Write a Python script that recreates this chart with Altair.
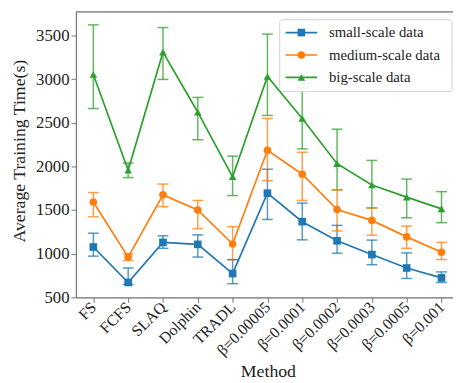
import altair as alt
import pandas as pd

methods = ["FS", "FCFS", "SLAQ", "Dolphin", "TRADL", "β=0.00005", "β=0.0001",
           "β=0.0002", "β=0.0003", "β=0.0005", "β=0.001"]
series_names = ["small-scale data", "medium-scale data", "big-scale data"]
colors = ["#1f77b4", "#ff7f0e", "#2ca02c"]
shapes = ["square", "circle", "triangle-up"]

small_mean = [1076, 669, 1129, 1106, 771, 1693, 1366, 1147, 989, 835, 722]
small_lo = [971, 647, 1061, 960, 655, 1392, 1158, 1005, 873, 715, 669]
small_hi = [1234, 835, 1204, 1215, 932, 1968, 1580, 1324, 1155, 1008, 790]

medium_mean = [1592, 960, 1674, 1501, 1110, 2186, 1911, 1505, 1381, 1192, 1016]
medium_lo = [1422, 921, 1539, 1287, 929, 1836, 1610, 1260, 1211, 1061, 932]
medium_hi = [1700, 997, 1798, 1610, 1309, 2551, 2163, 1731, 1524, 1316, 1129]

big_mean = [3055, 1956, 3311, 2622, 1881, 3032, 2551, 2032, 1787, 1648, 1513]
big_lo = [2664, 1872, 2998, 2306, 1666, 2585, 2201, 1731, 1524, 1411, 1355]
big_hi = [3624, 2039, 3593, 2792, 2118, 3518, 2900, 2427, 2069, 1855, 1711]

y_ticks = [500, 1000, 1500, 2000, 2500, 3000, 3500]

rows = []
for name, m, lo, hi in [
    (series_names[0], small_mean, small_lo, small_hi),
    (series_names[1], medium_mean, medium_lo, medium_hi),
    (series_names[2], big_mean, big_lo, big_hi),
]:
    for i, meth in enumerate(methods):
        rows.append({"series": name, "idx": i, "method": meth,
                     "mean": m[i], "lo": lo[i], "hi": hi[i]})
df = pd.DataFrame(rows)

FONT = "Liberation Serif, Times New Roman, serif"
W, H = 383, 290

label_arr = "[" + ",".join("'" + m + "'" for m in methods) + "]"

x_scale = alt.Scale(domain=[-0.5, 10.33], nice=False, zero=False)
x_axis = alt.Axis(values=list(range(len(methods))),
                  labelExpr=label_arr + "[datum.value]",
                  labelAngle=315, labelAlign="right", labelBaseline="middle",
                  labelPadding=2, labelBound=False, labelOverlap=False,
                  labelFontSize=16,
                  title="Method",
                  titleX=195, titleY=75, titleBaseline="middle", titleAlign="center")
x_enc = alt.X("idx:Q", scale=x_scale, axis=x_axis)

y_scale = alt.Scale(domain=[498, 3773], nice=False, zero=False)
y_axis = alt.Axis(values=y_ticks, format="d", title="Average Training Time(s)",
                  labelFontSize=17,
                  titleX=-57, titleY=141, titleAngle=270,
                  titleBaseline="middle", titleAlign="center")

color_enc = alt.Color("series:N", scale=alt.Scale(domain=series_names, range=colors),
                      legend=None)
shape_enc = alt.Shape("series:N", scale=alt.Scale(domain=series_names, range=shapes),
                      legend=None)

base = alt.Chart(df)

err = base.mark_rule(strokeWidth=1.5, opacity=0.75).encode(
    x=x_enc, y=alt.Y("lo:Q", scale=y_scale, axis=y_axis), y2="hi:Q", color=color_enc)
cap_lo = base.mark_tick(orient="horizontal", size=11, thickness=1.5, opacity=0.75).encode(
    x=x_enc, y=alt.Y("lo:Q", scale=y_scale, axis=y_axis), color=color_enc)
cap_hi = base.mark_tick(orient="horizontal", size=11, thickness=1.5, opacity=0.75).encode(
    x=x_enc, y=alt.Y("hi:Q", scale=y_scale, axis=y_axis), color=color_enc)
line = base.mark_line(strokeWidth=1.7).encode(
    x=x_enc, y=alt.Y("mean:Q", scale=y_scale, axis=y_axis), color=color_enc,
    detail="series:N")
pts = base.mark_point(filled=True, size=60, opacity=1).encode(
    x=x_enc, y=alt.Y("mean:Q", scale=y_scale, axis=y_axis), color=color_enc,
    shape=shape_enc)

# top spine
top = alt.Chart(pd.DataFrame({"a": [0]})).mark_rule(color="#777", strokeWidth=1.2).encode(
    x=alt.value(0), x2=alt.value(W), y=alt.value(0))

# legend
leg_df = pd.DataFrame({"series": series_names, "k": [0, 1, 2]})
leg_box = alt.Chart(pd.DataFrame({"a": [0]})).mark_rect(
    fill="white", fillOpacity=0.85, stroke="#d0d0d0", strokeWidth=1, cornerRadius=3
).encode(x=alt.value(207), x2=alt.value(382), y=alt.value(8), y2=alt.value(81))
leg_base = alt.Chart(leg_df).transform_calculate(ly="21 + 22.8*datum.k")
leg_y = alt.Y("ly:Q", scale=None, axis=None)
leg_line = leg_base.mark_rule(strokeWidth=1.7).encode(
    x=alt.value(213), x2=alt.value(245), y=leg_y, color=color_enc)
leg_pt = leg_base.mark_point(filled=True, size=60, opacity=1).encode(
    x=alt.value(229), y=leg_y, color=color_enc, shape=shape_enc)
leg_txt = leg_base.mark_text(align="left", baseline="middle", font=FONT, fontSize=15,
                             color="#222").encode(
    x=alt.value(257), y=leg_y, text="series:N")

chart = alt.layer(err, cap_lo, cap_hi, line, pts, top, leg_box, leg_line, leg_pt, leg_txt).properties(
    width=W, height=H,
    autosize=alt.AutoSizeParams(type="none"),
    padding={"left": 69, "top": 1, "right": 0, "bottom": 82},
).configure_view(stroke=None).configure(background="white").configure_axis(
    labelFont=FONT, labelColor="#222",
    tickSize=5, tickColor="#777", domainColor="#777", domainWidth=1.2, grid=False,
    titleFont=FONT, titleFontSize=18, titleFontWeight="normal", titleColor="#222",
)

chart.save("out.html", embed_options={"renderer": "svg", "actions": False})
